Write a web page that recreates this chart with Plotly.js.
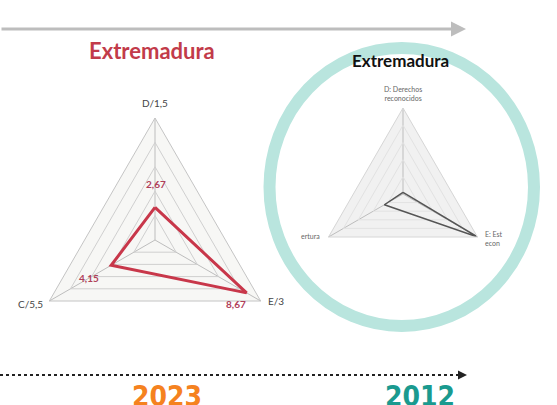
<!DOCTYPE html>
<html>
<head>
<meta charset="utf-8">
<script src="https://cdn.plot.ly/plotly-3.0.1.min.js"></script>
<style>html,body{margin:0;padding:0;background:#fff}#chart{width:557px;height:405px}</style>
</head>
<body>
<div id="chart"></div>
<script>
// ---- data ----
const leftTitle = 'Extremadura';
const rightTitle = 'Extremadura';
const leftCats = ['D/1,5', 'E/3', 'C/5,5'];
const leftVals = [2.67, 8.67, 4.15];
const rightCats = ['D: Derechos reconocidos', 'E: Estabilidad económica', 'C: Cobertura'];
const rightVals = [0.2, 10, 2.5];
const rightLabels = ['D: Derechos<br>reconocidos', 'E: Est<br>econ', 'ertura'];
const years = ['2023', '2012'];
const yearColors = ['#f5821f', '#1a9a8f'];

// ---- helpers (pixel -> paper) ----
const W = 557, H = 405;
const px = x => x / W;
const py = y => 1 - y / H;
const fmt = v => v.toFixed(2).replace('.', ',');
const close = a => a.concat([a[0]]);

const traces = [
  {
    type: 'scatterpolar', subplot: 'polar',
    r: close(leftVals), theta: close(leftCats),
    mode: 'lines', line: {color: '#c8374a', width: 3},
    hoverinfo: 'skip', showlegend: false
  },
  {
    type: 'scatterpolar', subplot: 'polar2',
    r: close(rightVals), theta: close(rightCats),
    mode: 'lines', line: {color: '#555555', width: 1.5},
    hoverinfo: 'skip', showlegend: false
  }
];

function polar(cx, cy, R, cats, opts) {
  return {
    domain: {x: [px(cx - R), px(cx + R)], y: [py(cy + R), py(cy - R)]},
    gridshape: 'linear',
    bgcolor: opts.bg,
    radialaxis: {range: [0, 10], dtick: 2, showticklabels: false, showline: false,
      ticks: '', gridcolor: opts.grid, gridwidth: 1},
    angularaxis: {type: 'category', categoryarray: cats, rotation: 90, direction: 'clockwise',
      showline: true, linecolor: opts.line, linewidth: 1, gridcolor: opts.spoke, ticks: '',
      showticklabels: false}
  };
}

const A = (o) => Object.assign({xref: 'paper', yref: 'paper', showarrow: false, xanchor: 'center', yanchor: 'middle'}, o);

const annotations = [
  A({text: '<b>' + leftTitle + '</b>', x: px(152), y: py(51),
     font: {family: 'Lato, sans-serif', size: 22, color: '#c23b4a'}}),
  A({text: '<b>' + rightTitle + '</b>', x: px(400), y: py(60),
     font: {family: 'Lato, sans-serif', size: 17, color: '#111'}}),
  // top grey arrow
  {text: '', x: px(466), y: py(29), xref: 'paper', yref: 'paper', showarrow: true,
   ax: -480, ay: 0, arrowhead: 2, arrowsize: 1, arrowwidth: 3, arrowcolor: '#bdbdbd'},
  // bottom arrow head
  {text: '', x: px(467), y: py(375), xref: 'paper', yref: 'paper', showarrow: true,
   ax: -6, ay: 0, arrowhead: 2, arrowsize: 1.2, arrowwidth: 1.5, arrowcolor: '#222'}
];
// left axis category labels
const catPos = [[155, 103, 'center'], [266, 301, 'left'], [45, 304, 'right']];
leftCats.forEach((c, i) => annotations.push(A({
  text: c, x: px(catPos[i][0]), y: py(catPos[i][1]), xanchor: catPos[i][2],
  font: {family: 'Lato, sans-serif', size: 10, color: '#444'}
})));
// left value labels
const valPos = [[156, 184], [236, 304], [89, 278]];
leftVals.forEach((v, i) => annotations.push(A({
  text: '<b>' + fmt(v) + '</b>', x: px(valPos[i][0]), y: py(valPos[i][1]),
  font: {family: 'Lato, sans-serif', size: 10, color: '#b0405a'}
})));
// right (cropped) axis labels
const rlPos = [[403, 94, 'center'], [483, 238, 'left'], [322, 236, 'right']];
rightLabels.forEach((t, i) => annotations.push(A({
  text: t, x: px(rlPos[i][0]), y: py(rlPos[i][1]), xanchor: rlPos[i][2],
  align: rlPos[i][2] === 'center' ? 'center' : 'left',
  font: {family: 'Lato, sans-serif', size: 7, color: '#666'}
})));
// years
const yearX = [167, 420];
years.forEach((t, i) => annotations.push(A({
  text: '<b>' + t + '</b>', x: px(yearX[i]), y: py(378), yanchor: 'top',
  font: {family: "'DejaVu Sans Condensed', sans-serif", size: 28, color: yearColors[i]}
})));

const layout = {
  width: W, height: H,
  margin: {l: 0, r: 0, t: 0, b: 0},
  paper_bgcolor: '#ffffff',
  showlegend: false,
  polar: polar(155, 240, 122, leftCats, {bg: '#f7f7f5', grid: '#cfcfcf', line: '#c4c4c4', spoke: '#bdbdbd'}),
  polar2: polar(403, 194, 86, rightCats, {bg: '#f1f1f1', grid: '#e2e2e2', line: '#d6d6d6', spoke: '#bdbdbd'}),
  shapes: [
    {type: 'circle', xref: 'paper', yref: 'paper', layer: 'below',
     x0: px(269.5), x1: px(534), y0: py(326), y1: py(48),
     line: {color: '#b9e5de', width: 12}},
    {type: 'line', xref: 'paper', yref: 'paper', x0: 0, x1: px(462), y0: py(375), y1: py(375),
     line: {color: '#222', width: 2, dash: 'dot'}}
  ],
  annotations: annotations
};

Plotly.newPlot('chart', traces, layout, {displayModeBar: false, staticPlot: true});
</script>
</body>
</html>
